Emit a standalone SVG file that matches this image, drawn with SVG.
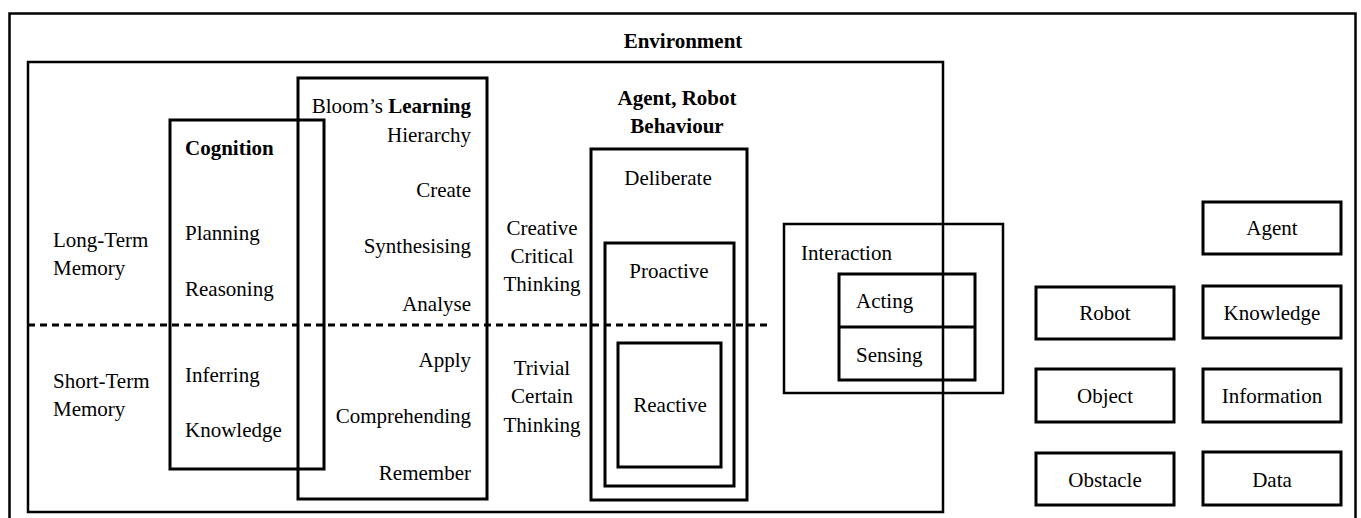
<svg xmlns="http://www.w3.org/2000/svg" width="1361" height="518" viewBox="0 0 1361 518">
<style>
text{font-family:"Liberation Serif","Times New Roman",serif;font-size:21px;fill:#000}
.b{font-weight:bold}
.m{text-anchor:middle}
.r{text-anchor:end}
.box{fill:none;stroke:#000;stroke-width:3}
.thin{stroke-width:2.5}
.dash{stroke:#000;stroke-width:3;stroke-dasharray:7,5;fill:none}
</style>
<rect x="0" y="0" width="1361" height="518" fill="#fff"/>
<g id="outer">
<path d="M9.5,518 V13.5 H1355.5 V518" fill="none" stroke="#000" stroke-width="2.5"/>
<text class="b m" x="683" y="48">Environment</text>
</g>
<g id="environment">
<rect class="box thin" x="28" y="62" width="915" height="450"/>
</g>
<g id="memory">
<text x="53" y="247">Long-Term</text>
<text x="53" y="275">Memory</text>
<text x="53" y="388">Short-Term</text>
<text x="53" y="416">Memory</text>
</g>
<g id="cognition">
<rect class="box" x="170" y="120" width="154" height="349"/>
<text class="b" x="185" y="155">Cognition</text>
<text x="185" y="240">Planning</text>
<text x="185" y="296">Reasoning</text>
<text x="185" y="382">Inferring</text>
<text x="185" y="437">Knowledge</text>
</g>
<g id="bloom">
<rect class="box" x="298" y="78" width="189" height="421"/>
<text class="r" x="471" y="113">Bloom’s <tspan class="b">Learning</tspan></text>
<text class="r" x="471" y="142">Hierarchy</text>
<text class="r" x="471" y="197">Create</text>
<text class="r" x="471" y="253">Synthesising</text>
<text class="r" x="471" y="311">Analyse</text>
<text class="r" x="471" y="367">Apply</text>
<text class="r" x="471" y="423">Comprehending</text>
<text class="r" x="471" y="480">Remember</text>
</g>
<g id="thinking">
<text class="m" x="542" y="235">Creative</text>
<text class="m" x="542" y="263">Critical</text>
<text class="m" x="542" y="291">Thinking</text>
<text class="m" x="542" y="375">Trivial</text>
<text class="m" x="542" y="403">Certain</text>
<text class="m" x="542" y="432">Thinking</text>
</g>
<g id="behaviour">
<text class="b m" x="677" y="105">Agent, Robot</text>
<text class="b m" x="677" y="133">Behaviour</text>
<rect class="box" x="591" y="149" width="156" height="351"/>
<text class="m" x="668" y="185">Deliberate</text>
<rect class="box" x="605" y="243" width="129" height="243"/>
<text class="m" x="669" y="278">Proactive</text>
<rect class="box" x="618" y="343" width="103" height="124"/>
<text class="m" x="670" y="412">Reactive</text>
</g>
<g id="interaction">
<rect class="box thin" x="784" y="224" width="219" height="169"/>
<text x="801" y="260">Interaction</text>
<rect class="box" x="839" y="274" width="136" height="106"/>
<line x1="839" y1="327" x2="975" y2="327" stroke="#000" stroke-width="3"/>
<text x="856" y="308">Acting</text>
<text x="856" y="362">Sensing</text>
</g>
<g id="connectors">
<line class="dash" x1="28" y1="325" x2="768" y2="325"/>
</g>
<g id="entities">
<g id="agent"><rect class="box" x="1203" y="202" width="138" height="52"/><text class="m" x="1272" y="235">Agent</text></g>
<g id="knowledge"><rect class="box" x="1203" y="286" width="138" height="52"/><text class="m" x="1272" y="320">Knowledge</text></g>
<g id="information"><rect class="box" x="1203" y="369" width="138" height="53"/><text class="m" x="1272" y="403">Information</text></g>
<g id="data"><rect class="box" x="1203" y="452" width="138" height="53"/><text class="m" x="1272" y="487">Data</text></g>
<g id="robot"><rect class="box" x="1036" y="287" width="138" height="52"/><text class="m" x="1105" y="320">Robot</text></g>
<g id="object"><rect class="box" x="1036" y="369" width="138" height="53"/><text class="m" x="1105" y="403">Object</text></g>
<g id="obstacle"><rect class="box" x="1036" y="453" width="138" height="52"/><text class="m" x="1105" y="487">Obstacle</text></g>
</g>
</svg>
